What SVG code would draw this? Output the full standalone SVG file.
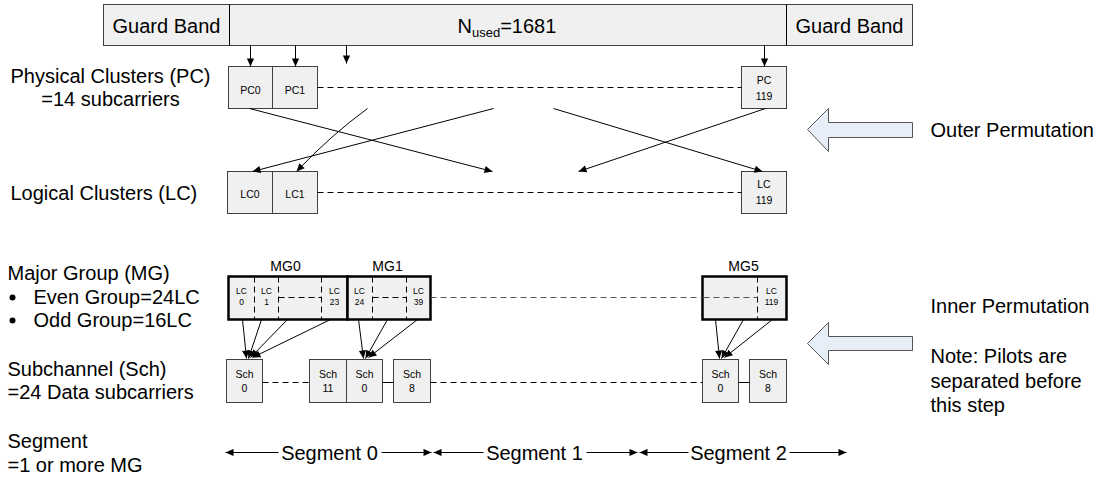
<svg xmlns="http://www.w3.org/2000/svg" width="1109" height="489" viewBox="0 0 1109 489">
<style>
text{font-family:"Liberation Sans",Arial,sans-serif;fill:#000}
.lbl{font-size:20px}
.box{fill:#f0f0f0;stroke:#404040;stroke-width:1}
.mg{fill:#f0f0f0;stroke:#000;stroke-width:2.5}
.sm{font-size:10.5px;text-anchor:middle}
.xs{font-size:8.5px;text-anchor:middle}
.ln{stroke:#000;stroke-width:1;fill:none}
.dash{stroke:#000;stroke-width:1;stroke-dasharray:6 4;fill:none}
.gdash{stroke:#555;stroke-width:1.2;stroke-dasharray:6 4;fill:none}
.blk{fill:#e8eef7;stroke:#555;stroke-width:1}
</style>
<defs>
<marker id="ah" viewBox="0 0 10 10" refX="10" refY="5" markerWidth="10" markerHeight="8" markerUnits="userSpaceOnUse" orient="auto-start-reverse"><path d="M0,0.5 L10,5 L0,9.5 z" fill="#000"/></marker>
</defs>
<g transform="translate(0.5,0.5)">
<g id="top-bar">
<rect class="box" x="103" y="4" width="809" height="41"/>
<line class="ln" x1="229" y1="4" x2="229" y2="45" stroke="#404040"/>
<line class="ln" x1="786" y1="4" x2="786" y2="45" stroke="#404040"/>
<text class="lbl" x="166" y="32" text-anchor="middle">Guard Band</text>
<text class="lbl" x="457" y="32">N<tspan font-size="13" dy="4">used</tspan><tspan dy="-4">=1681</tspan></text>
<text class="lbl" x="849" y="32" text-anchor="middle">Guard Band</text>
</g>

<g id="left-labels">
<text class="lbl" x="110" y="82" text-anchor="middle">Physical Clusters (PC)</text>
<text class="lbl" x="110" y="105" text-anchor="middle">=14 subcarriers</text>
<text class="lbl" x="10" y="199">Logical Clusters (LC)</text>
<text class="lbl" x="7" y="279">Major Group (MG)</text>
<circle cx="12" cy="297" r="3"/>
<text class="lbl" x="33" y="303">Even Group=24LC</text>
<circle cx="12" cy="320" r="3"/>
<text class="lbl" x="33" y="326">Odd Group=16LC</text>
<text class="lbl" x="7" y="375">Subchannel (Sch)</text>
<text class="lbl" x="7" y="398">=24 Data subcarriers</text>
<text class="lbl" x="7" y="447">Segment</text>
<text class="lbl" x="7" y="471">=1 or more MG</text>
</g>

<g id="pc0"><rect class="box" x="228" y="66" width="44" height="42"/><text class="sm" x="250" y="93">PC0</text></g>
<g id="pc1"><rect class="box" x="272" y="66" width="45" height="42"/><text class="sm" x="294.5" y="93">PC1</text></g>
<g id="pc119"><rect class="box" x="741" y="66" width="45" height="42"/><text class="sm" x="763.5" y="83">PC</text><text class="sm" x="763.5" y="99">119</text></g>

<g id="lc0"><rect class="box" x="227" y="171" width="45" height="42"/><text class="sm" x="249.5" y="197">LC0</text></g>
<g id="lc1"><rect class="box" x="272" y="171" width="45" height="42"/><text class="sm" x="294.5" y="197">LC1</text></g>
<g id="lc119"><rect class="box" x="741" y="171" width="45" height="42"/><text class="sm" x="763.5" y="187">LC</text><text class="sm" x="763.5" y="203">119</text></g>

<g id="mg0">
<text x="285" y="270" font-size="14" text-anchor="middle">MG0</text>
<rect class="mg" x="228" y="276" width="119" height="43"/>
<path class="dash" d="M254,276V319M278,276V319M321,276V319M278,297H321"/>
<text class="xs" x="241" y="293">LC</text><text class="xs" x="241" y="304">0</text>
<text class="xs" x="266" y="293">LC</text><text class="xs" x="266" y="304">1</text>
<text class="xs" x="334" y="293">LC</text><text class="xs" x="334" y="304">23</text>
</g>
<g id="mg1">
<text x="387" y="270" font-size="14" text-anchor="middle">MG1</text>
<rect class="mg" x="347" y="276" width="83" height="43"/>
<path class="dash" d="M372,276V319M406,276V319M372,297H406"/>
<text class="xs" x="359" y="293">LC</text><text class="xs" x="359" y="304">24</text>
<text class="xs" x="418" y="293">LC</text><text class="xs" x="418" y="304">39</text>
</g>
<g id="mg5">
<text x="743" y="270" font-size="14" text-anchor="middle">MG5</text>
<rect class="mg" x="702" y="276" width="84" height="43"/>
<path class="dash" d="M757,276V319"/>
<path class="gdash" d="M703,297H757"/>
<text class="xs" x="771" y="293">LC</text><text class="xs" x="771" y="304">119</text>
</g>

<g id="sch-a"><rect class="box" x="226" y="359" width="36" height="43"/><text class="sm" x="244" y="377">Sch</text><text class="sm" x="244" y="391">0</text></g>
<g id="sch-b"><rect class="box" x="309" y="359" width="37" height="43"/><text class="sm" x="327.5" y="377">Sch</text><text class="sm" x="327.5" y="391">11</text></g>
<g id="sch-c"><rect class="box" x="346" y="359" width="36" height="43"/><text class="sm" x="364" y="377">Sch</text><text class="sm" x="364" y="391">0</text></g>
<g id="sch-d"><rect class="box" x="393" y="359" width="37" height="43"/><text class="sm" x="411.5" y="377">Sch</text><text class="sm" x="411.5" y="391">8</text></g>
<g id="sch-e"><rect class="box" x="702" y="359" width="36" height="43"/><text class="sm" x="720" y="377">Sch</text><text class="sm" x="720" y="391">0</text></g>
<g id="sch-f"><rect class="box" x="749" y="359" width="37" height="43"/><text class="sm" x="767.5" y="377">Sch</text><text class="sm" x="767.5" y="391">8</text></g>

<g id="outer-perm">
<path class="blk" d="M807,129 L828,108 L828,122 L912,122 L912,137 L828,137 L828,151 Z"/>
<text class="lbl" x="930" y="136">Outer Permutation</text>
</g>
<g id="inner-perm">
<path class="blk" d="M807,343 L828,322 L828,336 L912,336 L912,350 L828,350 L828,364 Z"/>
<text class="lbl" x="930" y="312">Inner Permutation</text>
<text class="lbl" x="930" y="362">Note: Pilots are</text>
<text class="lbl" x="930" y="387">separated before</text>
<text class="lbl" x="930" y="411">this step</text>
</g>

<g id="connectors">
<path class="ln" marker-end="url(#ah)" d="M250,45V66"/>
<path class="ln" marker-end="url(#ah)" d="M295,45V66"/>
<path class="ln" marker-end="url(#ah)" d="M346,45V63"/>
<path class="ln" marker-end="url(#ah)" d="M764,45V66"/>
<path class="dash" d="M317,87H741"/>
<path class="dash" d="M317,192H741"/>
<path class="ln" marker-end="url(#ah)" d="M249,108L492,171"/>
<path class="ln" marker-end="url(#ah)" d="M367,108Q330,135 296,171"/>
<path class="ln" marker-end="url(#ah)" d="M493,108L252,171"/>
<path class="ln" marker-end="url(#ah)" d="M553,108L762,171"/>
<path class="ln" marker-end="url(#ah)" d="M765,108L578,171"/>
<path class="gdash" d="M430,297H702"/>
<path class="ln" marker-end="url(#ah)" d="M242,319L246,358"/>
<path class="ln" marker-end="url(#ah)" d="M261,319L248,358"/>
<path class="ln" marker-end="url(#ah)" d="M287,319L250,357"/>
<path class="ln" marker-end="url(#ah)" d="M330,319L252,357"/>
<path class="ln" marker-end="url(#ah)" d="M358,319L363,358"/>
<path class="ln" marker-end="url(#ah)" d="M387,319L365,358"/>
<path class="ln" marker-end="url(#ah)" d="M417,319L368,357"/>
<path class="ln" marker-end="url(#ah)" d="M715,319L719,358"/>
<path class="ln" marker-end="url(#ah)" d="M743,319L721,358"/>
<path class="ln" marker-end="url(#ah)" d="M772,319L724,357"/>
<path class="dash" d="M262,382H309"/>
<path class="ln" d="M382,382H393"/>
<path class="dash" d="M430,382H702"/>
<path class="ln" d="M738,382H749"/>
<path class="ln" marker-start="url(#ah)" d="M225,452H278"/>
<path class="ln" marker-end="url(#ah)" d="M381,452H431"/>
<path class="ln" marker-start="url(#ah)" d="M433,452H483"/>
<path class="ln" marker-end="url(#ah)" d="M586,452H637"/>
<path class="ln" marker-start="url(#ah)" d="M639,452H688"/>
<path class="ln" marker-end="url(#ah)" d="M789,452H846"/>
</g>
<g id="segment-labels">
<text class="lbl" x="329" y="459" text-anchor="middle">Segment 0</text>
<text class="lbl" x="534" y="459" text-anchor="middle">Segment 1</text>
<text class="lbl" x="738" y="459" text-anchor="middle">Segment 2</text>
</g>
</g>
</svg>
